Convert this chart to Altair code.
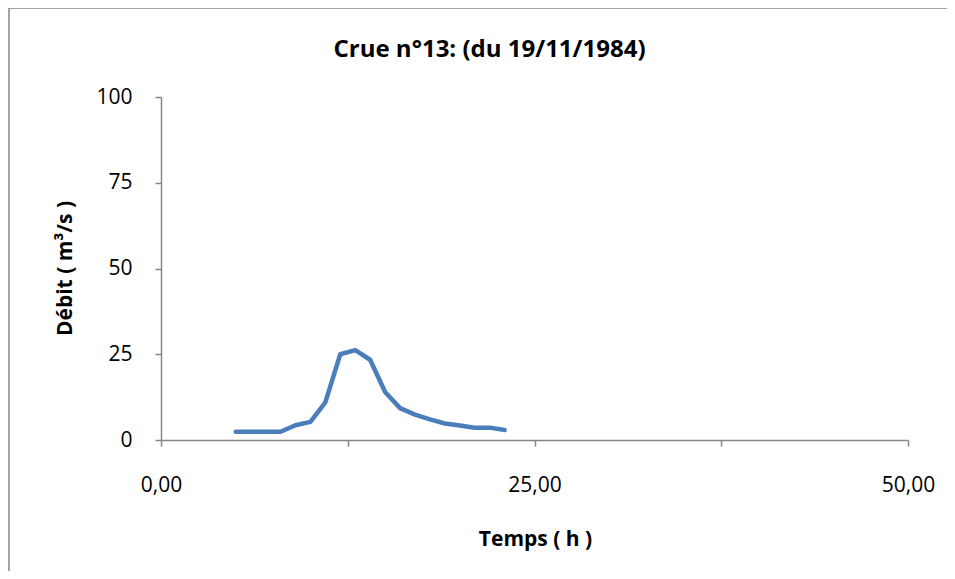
import altair as alt
import pandas as pd

temps = [5, 6, 7, 8, 9, 10, 11, 12, 13, 14, 15, 16, 17, 18, 19, 20, 21, 22, 23]
debit = [2.4, 2.4, 2.4, 2.4, 4.3, 5.3, 11.0, 25.0, 26.2, 23.4, 14.0, 9.3, 7.4, 6.0, 4.8, 4.2, 3.6, 3.6, 2.9]

x_ticks = [0, 12.5, 25, 37.5, 50]
y_ticks = [0, 25, 50, 75, 100]

df = pd.DataFrame({"t": temps, "q": debit})

FONT = "Open Sans"
GRAY = "#868686"

one = pd.DataFrame({"a": [0]})
frame_left = alt.Chart(one).mark_rule(color=GRAY, strokeWidth=1.5, clip=False).encode(
    x=alt.value(-152), y=alt.value(-89), y2=alt.value(560)
)
frame_top = alt.Chart(one).mark_rule(color=GRAY, strokeWidth=1.5, clip=False).encode(
    y=alt.value(-89), x=alt.value(-152), x2=alt.value(900)
)

line = alt.Chart(df).mark_line(color="#4A7EBB", strokeWidth=4.5, strokeCap="round", strokeJoin="round").encode(
    x=alt.X("t:Q", scale=alt.Scale(domain=[0, 50], nice=False),
            axis=alt.Axis(values=x_ticks, title="Temps ( h )",
                          labelExpr="datum.value % 25 == 0 ? replace(format(datum.value, '.2f'), '.', ',') : ''",
                          labelBaseline="middle", labelPadding=39, tickSize=6, labelFlush=False,
                          titleX=374, titleY=99, titleBaseline="middle", titleAlign="center")),
    y=alt.Y("q:Q", scale=alt.Scale(domain=[0, 100], nice=False),
            axis=alt.Axis(values=y_ticks, title="Débit ( m³/s )", labelPadding=23, tickSize=6,
                          titleX=-96, titleY=171, titleAngle=-90, titleBaseline="middle", titleAlign="center")),
)

chart = alt.layer(frame_left, frame_top, line).properties(
    width=747, height=343,
    background="white",
    title=alt.TitleParams("Crue n°13: (du 19/11/1984)", fontSize=24, font=FONT, fontWeight="bold",
                          anchor="middle", dx=-45, offset=-55, color="black"),
    autosize=alt.AutoSizeParams(type="none"),
    padding={"left": 153, "top": 89, "right": 39, "bottom": 131},
).configure_view(stroke=None).configure_axis(
    grid=False, domainColor=GRAY, tickColor=GRAY, domainWidth=1.5, tickWidth=1.5,
    labelFont=FONT, labelFontSize=21, labelColor="black",
    titleFont=FONT, titleFontSize=21, titleFontWeight="bold", titleColor="black",
)

chart.save("out.html", embed_options={"renderer": "svg", "actions": False})
